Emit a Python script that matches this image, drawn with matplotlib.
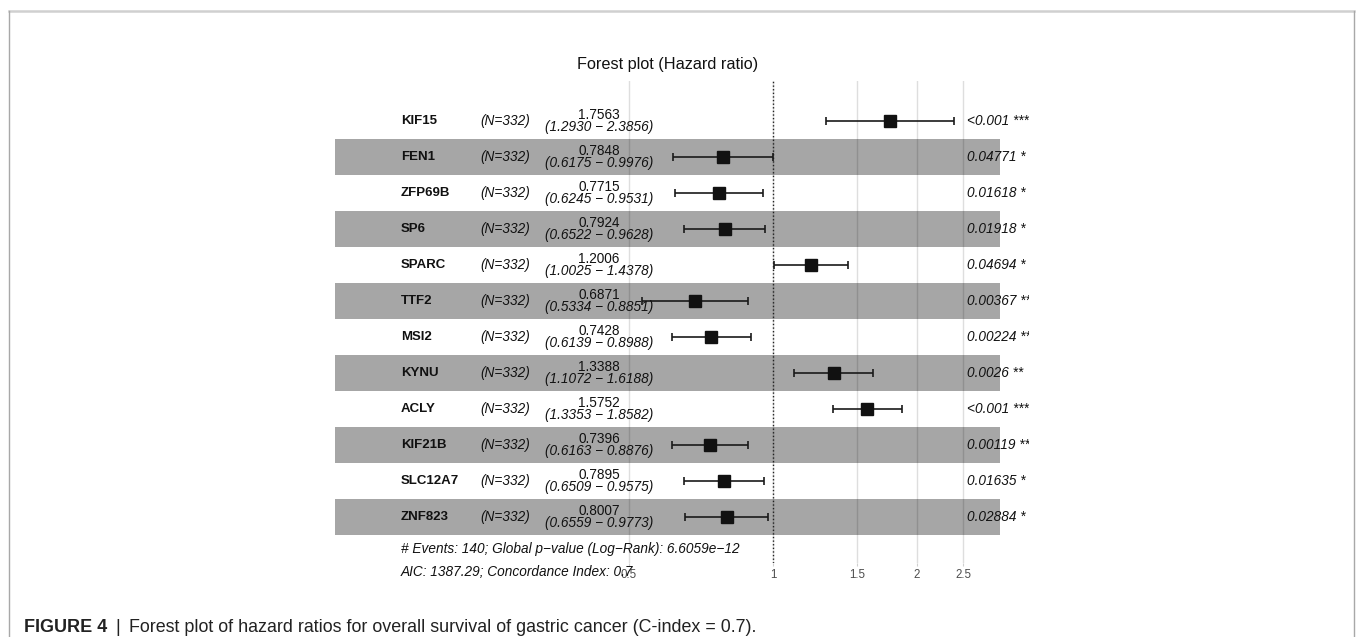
import numpy as np
import matplotlib
matplotlib.use("Agg")
import matplotlib.pyplot as plt
from matplotlib.lines import Line2D

# ---------------- data ----------------
genes = ["KIF15", "FEN1", "ZFP69B", "SP6", "SPARC", "TTF2", "MSI2", "KYNU",
         "ACLY", "KIF21B", "SLC12A7", "ZNF823"]
n_labels = ["(N=332)"] * 12
hr = [1.7563, 0.7848, 0.7715, 0.7924, 1.2006, 0.6871, 0.7428, 1.3388,
      1.5752, 0.7396, 0.7895, 0.8007]
ci_low = [1.2930, 0.6175, 0.6245, 0.6522, 1.0025, 0.5334, 0.6139, 1.1072,
          1.3353, 0.6163, 0.6509, 0.6559]
ci_high = [2.3856, 0.9976, 0.9531, 0.9628, 1.4378, 0.8851, 0.8988, 1.6188,
           1.8582, 0.8876, 0.9575, 0.9773]
p_labels = ["<0.001 ***", "0.04771 *", "0.01618 *", "0.01918 *", "0.04694 *",
            "0.00367 **", "0.00224 **", "0.0026 **", "<0.001 ***", "0.00119 **",
            "0.01635 *", "0.02884 *"]
x_ticks = [0.5, 1, 1.5, 2, 2.5]
x_tick_labels = ["0.5", "1", "1.5", "2", "2.5"]
n_events = 140
global_p = "6.6059e\u221212"
aic = 1387.29
c_index = 0.7
title = "Forest plot (Hazard ratio)"
caption_head = "FIGURE 4"
caption_body = "Forest plot of hazard ratios for overall survival of gastric cancer (C-index = 0.7)."

# ---------------- layout ----------------
FONT = ["Liberation Sans", "DejaVu Sans"]
plt.rcParams["font.family"] = FONT
W, H = 1357, 637
fig = plt.figure(figsize=(W / 100, H / 100), dpi=100)
fig.patch.set_facecolor("white")

ax_l, ax_r, ax_t, ax_b = 318, 1029, 81, 563
ax = fig.add_axes([ax_l / W, 1 - ax_b / H, (ax_r - ax_l) / W, (ax_b - ax_t) / H])
ax.set_xscale("log")

lnlo = np.log(min(ci_low))
lnhi = np.log(max(ci_high))
d = lnhi - lnlo
plot_lo = lnlo - d
plot_hi = lnhi + 0.15 * d
width = plot_hi - plot_lo
ax.set_xlim(np.exp(plot_lo - 0.02 * width), np.exp(plot_hi + 0.043 * width))

n = len(genes)
rows = np.arange(n, 0, -1)  # top row = n
ax.set_ylim(-0.278, n + 1.11)

# grid
ax.set_xticks(x_ticks)
ax.set_xticklabels(x_tick_labels)
ax.xaxis.set_minor_locator(matplotlib.ticker.NullLocator())
ax.set_yticks([])
ax.grid(axis="x", color="#DEDEDE", linewidth=1.0, zorder=0)
ax.set_axisbelow(True)
for s in ax.spines.values():
    s.set_visible(False)
ax.tick_params(axis="x", labelsize=8.3, labelcolor="#4D4D4D", length=2.5,
               color="#CFCFCF", pad=2)

# alternating bands
band_lo = np.exp(plot_lo + 0.005 * width)
band_rows = [r for i, r in enumerate(rows) if i % 2 == 1]
ax.barh(band_rows, np.exp(plot_hi) - band_lo, left=band_lo,
        height=1.0, color="black", alpha=0.35, linewidth=0, zorder=1)

# reference line at 1
ax.axvline(1, color="#222222", linestyle=(0, (1, 1.6)), linewidth=1.0, zorder=2)

# CIs and points
hr_a = np.array(hr)
xerr = np.vstack([hr_a - np.array(ci_low), np.array(ci_high) - hr_a])
ax.errorbar(hr_a, rows, xerr=xerr, fmt="none", ecolor="#1a1a1a", elinewidth=1.2,
            capsize=2.6, capthick=1.2, zorder=3)
ax.plot(hr_a, rows, linestyle="none", marker="s", markersize=9, color="#111111",
        zorder=4)

# text columns
x_gene = np.exp(plot_lo + 0.104 * width)
x_n = np.exp(plot_lo + 0.223 * width)
x_est = np.exp(plot_lo + 0.40 * width)
x_p = np.exp(plot_lo + 0.95 * width)
fs = 9.8
for r, g, nl, e, lo, hi, p in zip(rows, genes, n_labels, hr, ci_low, ci_high, p_labels):
    ax.text(x_gene, r, g, fontsize=9.5, fontweight="bold", ha="left", va="center",
            color="#111111", zorder=5)
    ax.text(x_n, r, nl, fontsize=fs, style="italic", ha="left", va="center",
            color="#111111", zorder=5)
    ax.text(x_est, r + 0.165, f"{e:.4f}", fontsize=fs, ha="center", va="center",
            color="#111111", zorder=5)
    ax.text(x_est, r - 0.17, f"({lo:.4f} \u2212 {hi:.4f})", fontsize=fs,
            style="italic", ha="center", va="center", color="#111111", zorder=5)
    ax.text(x_p, r, p, fontsize=fs, style="italic", ha="left", va="center",
            color="#111111", zorder=5, clip_on=True)

ax.text(x_gene, 0.111,
        f"# Events: {n_events}; Global p\u2212value (Log\u2212Rank): {global_p}",
        fontsize=fs, style="italic", ha="left", va="center", color="#111111",
        clip_on=False)
ax.text(x_gene, -0.528, f"AIC: {aic:.2f}; Concordance Index: {c_index:g}",
        fontsize=fs, style="italic", ha="left", va="center", color="#111111",
        clip_on=False)

# title
fig.text(667.5 / W, 1 - 65 / H, title, fontsize=11.7, ha="center", va="center",
         color="#111111")

# outer frame
fig.add_artist(Line2D([9 / W, 1354 / W], [1 - 11 / H, 1 - 11 / H],
                      transform=fig.transFigure, color="#D0D0D0", linewidth=1.8))
fig.add_artist(Line2D([9 / W, 9 / W], [1 - 11 / H, 0], transform=fig.transFigure,
                      color="#A8A8A8", linewidth=1.0))
fig.add_artist(Line2D([1354 / W, 1354 / W], [1 - 11 / H, 0], transform=fig.transFigure,
                      color="#A8A8A8", linewidth=1.0))

# caption
cap_y = 1 - 628 / H
fig.text(24 / W, cap_y, caption_head, fontsize=13, fontweight="bold",
         ha="left", va="center", color="#222222")
fig.text(115 / W, cap_y, "|", fontsize=13, ha="left", va="center",
         color="#222222")
fig.text(129 / W, cap_y, caption_body, fontsize=12.9, ha="left", va="center",
         color="#222222")

fig.savefig("out.png", dpi=100, facecolor="white")
